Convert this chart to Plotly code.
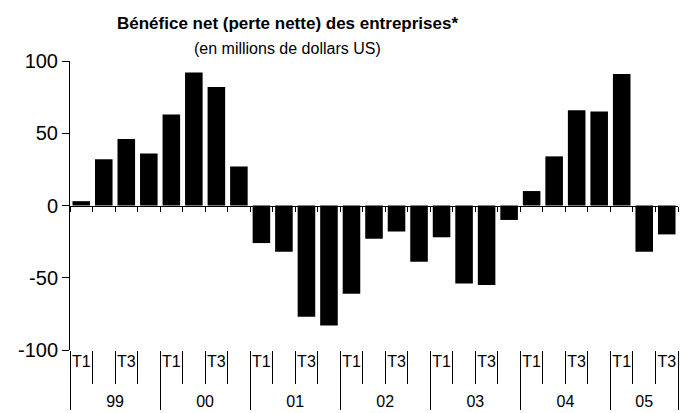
import plotly.graph_objects as go

# ---- data ----
years = ["99", "00", "01", "02", "03", "04", "05"]
quarters = ["T1", "T2", "T3", "T4"]
quarter_labels = {"T1": "T1", "T2": " ", "T3": "T3", "T4": "  "}
values = [3, 32, 46, 36,
          63, 92, 82, 27,
          -26, -32, -77, -83,
          -61, -23, -18, -39,
          -22, -54, -55, -10,
          10, 34, 66, 65,
          91, -32, -20]
y_ticks = [-100, -50, 0, 50, 100]
y_ticktext = ["-100", "-50", "0", "50", "100"]
title = "Bénéfice net (perte nette) des entreprises*"
subtitle = "(en millions de dollars US)"

FONT = "Arial, Liberation Sans, sans-serif"

x_outer = ["<br>" + years[i // 4] for i in range(len(values))]
x_inner = [quarter_labels[quarters[i % 4]] for i in range(len(values))]
n = len(values)
boundaries = [i - 0.5 for i in range(n + 1)]
xrange = [-0.5, n - 0.5]

fig = go.Figure()
fig.add_bar(x=[x_outer, x_inner], y=values,
            marker=dict(color="black", line=dict(width=0)),
            width=0.78, hoverinfo="y", showlegend=False)
# helper traces for the overlaying axes (tick marks only)
fig.add_scatter(x=xrange, y=[0, 0], mode="markers", marker=dict(opacity=0),
                xaxis="x2", hoverinfo="skip", showlegend=False)
fig.add_scatter(x=xrange, y=[0, 0], mode="markers", marker=dict(opacity=0),
                xaxis="x3", hoverinfo="skip", showlegend=False)

fig.update_layout(
    width=686, height=413,
    margin=dict(l=70, r=8, t=61, b=63, autoexpand=False),
    paper_bgcolor="white", plot_bgcolor="white",
    font=dict(family=FONT, color="black", size=16),
    bargap=0.22,
    xaxis=dict(type="multicategory", range=xrange, showline=False,
               ticks="outside", ticklen=8, tickcolor="rgba(0,0,0,0)",
               showgrid=False, zeroline=False, showdividers=True,
               dividercolor="black", dividerwidth=1, tickangle=0, automargin=False,
               tickfont=dict(size=16, family=FONT, color="black")),
    xaxis2=dict(overlaying="x", anchor="free", position=0.5, range=xrange,
                tickvals=boundaries, ticks="outside", ticklen=5, tickcolor="black",
                tickwidth=1, showticklabels=False, showline=True, linecolor="black",
                linewidth=1, showgrid=False, zeroline=False, automargin=False),
    xaxis3=dict(overlaying="x", anchor="y", side="bottom", range=xrange,
                tickvals=boundaries, ticks="outside", ticklen=33, tickcolor="black",
                tickwidth=1, showticklabels=False, showline=False,
                showgrid=False, zeroline=False, automargin=False),
    yaxis=dict(range=[-100, 100], tickvals=y_ticks, ticktext=y_ticktext,
               ticks="outside", ticklen=7, automargin=False,
               tickcolor="black", showline=True, linecolor="black", linewidth=1,
               showgrid=False, zeroline=False,
               tickfont=dict(size=20, family=FONT, color="black")),
    annotations=[
        dict(text="<b>" + title + "</b>", xref="paper", yref="paper",
             x=0.358, y=1.13, xanchor="center", yanchor="middle",
             showarrow=False, font=dict(size=17, family=FONT, color="black")),
        dict(text=subtitle, xref="paper", yref="paper",
             x=0.358, y=1.042, xanchor="center", yanchor="middle",
             showarrow=False, font=dict(size=16, family=FONT, color="black")),
    ],
)

fig.write_html("out.html", config={"displayModeBar": False},
               post_script="document.body.style.margin='0';")
